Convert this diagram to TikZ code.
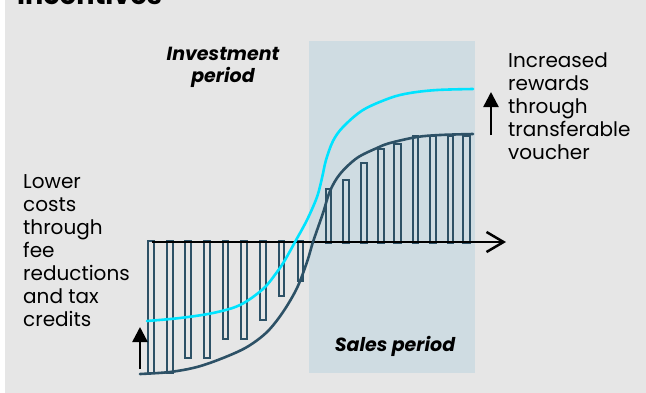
\documentclass[tikz,border=0pt]{standalone}
\usepackage{fontspec}
\setmainfont{Poppins}
\usetikzlibrary{arrows.meta}
\definecolor{bg}{HTML}{E6E6E6}
\definecolor{salesbg}{HTML}{CFDCE2}
\definecolor{dark}{HTML}{2D5166}
\definecolor{cyanline}{HTML}{00E3FF}
\begin{document}
\begin{tikzpicture}[x=1pt,y=-1pt,
  barbox/.style={draw=dark,line width=2.2pt},
  curve/.style={line width=2.6pt, line cap=round},
  label/.style={font=\fontsize{20}{23}\selectfont, align=left, inner sep=0pt, anchor=base west},
  period/.style={font=\fontsize{19}{22}\selectfont\bfseries\itshape, align=center, inner sep=0pt, anchor=base},
  titletext/.style={font=\fontsize{27}{32}\selectfont\bfseries, inner sep=0pt, anchor=base west},
  uparrow/.style={line width=2.5pt, -{Triangle[length=15pt,width=15pt]}}]
\useasboundingbox (0,0) rectangle (646,392);
\fill[white] (-2,-2) rectangle (5,394);
\fill[bg] (5,-2) rectangle (648,394);
\fill[salesbg] (309,41) rectangle (475,373);
% negative bars
\foreach \a/\b/\c in {148/154/373, 167/173/373, 185/191/358, 204/210/358, 223/228/339, 241/247/339, 260/266/320, 279/284/296, 298/303/281}
  \draw[barbox] (\a,241) rectangle (\b,\c);
% positive bars
\foreach \a/\b/\c in {326/331/189, 343/349/180, 361/367/163, 378/384/149, 394/401/144, 413/418/136, 430/436/136, 448/453/136, 463/470/136}
  \draw[barbox] (\a,243) rectangle (\b,\c);
% axis
\coordinate (axs) at (152,242);
\coordinate (axe) at (506,242);
\draw[line width=2.5pt, -{Straight Barb[length=17pt,width=20pt]}] (axs) -- (axe);
% curves
\draw[curve, dark] plot[smooth, tension=0.55] coordinates {(140,374) (170,372) (197,367) (223,358) (247,347) (267,332) (283,312) (297,288) (307,262) (313,242) (323,213) (330,191) (340,174) (357,158) (377,148) (390,143) (417,137) (440,135) (473,134)};
\draw[curve, cyanline] plot[smooth, tension=0.55] coordinates {(147,321) (180,318) (213,313) (240,305) (263,289) (277,272) (285,260) (295,242) (307,220) (317,197) (322,178) (326,160) (333,141) (343,127) (363,110) (390,98) (410,93) (437,90) (473,89)};
% arrows
\coordinate (la0) at (140,369);
\coordinate (la1) at (140,327);
\draw[uparrow] (la0) -- (la1);
\coordinate (ra0) at (491,135);
\coordinate (ra1) at (491,92);
\draw[uparrow] (ra0) -- (ra1);
% texts
\node[titletext] (title) at (17,4) {Incentives};
\node[label] (lefttext) at (23,326) {Lower\\costs\\through\\fee\\reductions\\and tax\\credits};
\node[label] (righttext) at (508,159) {Increased\\rewards\\through\\transferable\\voucher};
\node[period] (inv) at (223,82) {Investment\\period};
\node[period] (sales) at (395,351) {Sales period};
\end{tikzpicture}
\end{document}
